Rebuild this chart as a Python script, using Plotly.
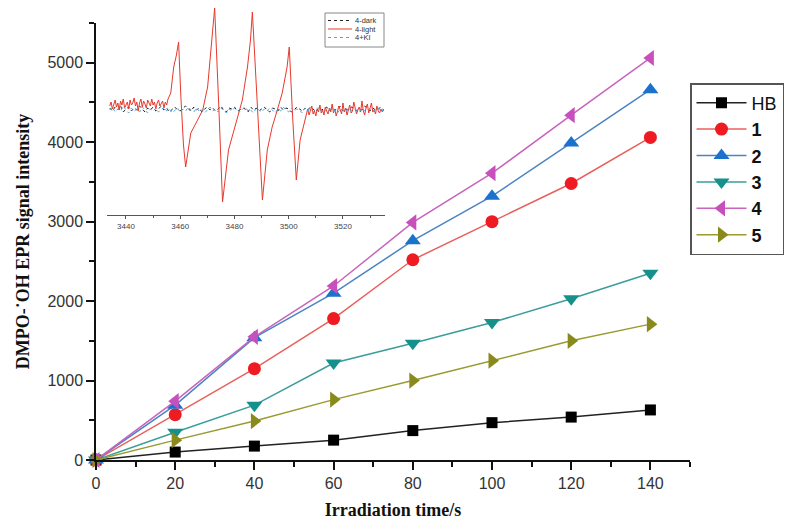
import plotly.graph_objects as go

# ---------------- main data ----------------
time_s = [0, 20, 40, 60, 80, 100, 120, 140]
series_names = ["HB", "1", "2", "3", "4", "5"]
hb = [0, 100, 175, 250, 370, 470, 540, 630]
s1 = [0, 570, 1150, 1780, 2520, 3000, 3480, 4060]
s2 = [0, 690, 1540, 2100, 2760, 3320, 3990, 4660]
s3 = [0, 350, 690, 1220, 1470, 1730, 2030, 2350]
s4 = [0, 740, 1550, 2190, 2990, 3610, 4340, 5060]
s5 = [0, 250, 490, 760, 1000, 1250, 1500, 1710]

x_ticks = [0, 20, 40, 60, 80, 100, 120, 140]
y_ticks = [0, 1000, 2000, 3000, 4000, 5000]

# ---------------- inset EPR spectrum (field / G, intensity a.u.) ----------------
inset_names = ["4-dark", "4-light", "4+KI"]
inset_ticks = [3440, 3460, 3480, 3500, 3520]
light_left_start, light_left_step = 3434.0, 0.5
light_left = [-1, 3, -4, 1, 5, -2, 2, -5, 4, 0, 6, -3, 1, 3, -4, 5, 0, 2, 7, -1, 3, -6,
              2, 6, -2, 4, 1, -3, 5, 2, -1, 6, 0, 3, -4, 2, 5, -1, 1, 4, -3, 3, 0, 6]
light_peak_field = [3456.5, 3457.6, 3458.6, 3459.4, 3460.2, 3461.2, 3462.0, 3463.9, 3466.4,
                    3468.3, 3470.1, 3471.2, 3472.7, 3474.2, 3475.6, 3477.8, 3481.1, 3482.9,
                    3484.8, 3485.9, 3486.6, 3488.5, 3490.3, 3492.1, 3493.9, 3495.8, 3497.6,
                    3499.4, 3500.2, 3501.5, 3502.8, 3504.2, 3506.1]
light_peak_int = [12, 38, 50, 63, 10, -40, -62, -28, -15,
                  -5, 18, 55, 97, 0, -97, -45, -12, 5,
                  38, 65, 93, 0, -95, -45, -22, -5, 12,
                  38, 58, -15, -75, -35, -12]
light_right_start, light_right_step = 3506.5, 0.5
light_right = [-8, -4, -10, -5, -1, -9, -6, -11, -4, -7, 0, -8, -5, -10, -2, -6, -9, -3, -7, 1,
               -8, -4, -11, -6, -1, -5, -9, 2, -7, -3, -10, -5, 0, -8, -6, 3, -4, -9, -5, -2,
               -7, 4, -6, -10, -3, 1, -8, -4, 2, -7, -5, -9, -1, -6, -8, -4, -7, -5]
dark_start, dark_step = 3434.0, 1.0
dark = [-3, -6, -2, -5, -1, -7, -4, -2, -6, -3, -5, -1, -4, -7, -3, -5, -2, -6, -4, -1,
        -5, -3, -7, -4, -2, -5, -6, -3, -1, -4, -6, -2, -5, -3, -7, -4, -2, -5, -3, -6,
        -4, -1, -5, -7, -3, -4, -2, -6, -5, -3, -4, -7, -2, -5, -3, -6, -4, -2, -5, -7,
        -3, -4, -6, -2, -5, -3, -4, -7, -5, -2, -4, -6, -3, -5, -2, -4, -7, -3, -5, -4,
        -2, -6, -3, -5, -4, -1, -6, -4, -5, -2, -3, -6, -4, -5, -1, -4, -6, -3, -5, -4, -2, -5]
ki_start, ki_step = 3434.0, 1.0
ki = [-5, -2, -7, -4, -6, -1, -5, -8, -3, -6, -4, -7, -2, -5, -8, -4, -6, -3, -7, -5,
      -2, -6, -4, -8, -5, -3, -7, -4, -6, -2, -5, -7, -3, -6, -4, -8, -5, -2, -6, -4,
      -7, -3, -5, -8, -4, -6, -3, -5, -7, -4, -2, -6, -5, -8, -3, -5, -7, -4, -6, -3,
      -5, -8, -4, -6, -2, -5, -7, -3, -6, -4, -5, -8, -3, -6, -4, -7, -5, -2, -6, -4,
      -7, -5, -3, -6, -8, -4, -5, -7, -3, -6, -4, -5, -7, -3, -6, -5, -4, -7, -5, -3, -6, -5]


def grid(start, step, vals):
    return [start + i * step for i in range(len(vals))]


light_x = grid(light_left_start, light_left_step, light_left) + light_peak_field + \
    grid(light_right_start, light_right_step, light_right)
light_y = light_left + light_peak_int + light_right

inset_styles = [("#222222", "dot"), ("#e8392c", "solid"), ("#4fa8e0", "dot")]

fig = go.Figure()

fig.add_trace(go.Scatter(x=grid(dark_start, dark_step, dark), y=dark, mode="lines",
                         name=inset_names[0], showlegend=False,
                         line=dict(color=inset_styles[0][0], width=1, dash="dot"),
                         xaxis="x2", yaxis="y2"))
fig.add_trace(go.Scatter(x=light_x, y=light_y, mode="lines", name=inset_names[1], showlegend=False,
                         line=dict(color=inset_styles[1][0], width=1),
                         xaxis="x2", yaxis="y2"))
fig.add_trace(go.Scatter(x=grid(ki_start, ki_step, ki), y=ki, mode="lines",
                         name=inset_names[2], showlegend=False,
                         line=dict(color=inset_styles[2][0], width=1, dash="dot"),
                         xaxis="x2", yaxis="y2"))

styles = [
    ("#222222", "#000000", "square", 11),
    ("#e8605c", "#ee1c22", "circle", 13),
    ("#4a84c4", "#1a72cc", "triangle-up", 14),
    ("#3a9d9a", "#15908a", "triangle-down", 14),
    ("#c864bc", "#c850bc", "triangle-left", 14),
    ("#9a9a30", "#8a8a1c", "triangle-right", 14),
]
data = [hb, s1, s2, s3, s4, s5]
for name, vals, (lc, mc, sym, ms) in zip(series_names, data, styles):
    label = name if name == "HB" else "<b>" + name + "</b>"
    fig.add_trace(go.Scatter(x=time_s, y=vals, mode="lines+markers", name=label,
                             line=dict(color=lc, width=1.5),
                             marker=dict(color=mc, symbol=sym, size=ms),
                             cliponaxis=False))

# inset legend drawn by hand (plotly legend rows cannot be this tight)
L, W, B, H = 96, 594, 460, 455  # plot area left/width, bottom/height in pixels


def px(x):
    return (x - L) / W


def py(y):
    return (B - y) / H


shapes = [dict(type="rect", xref="paper", yref="paper", x0=px(325), x1=px(384), y0=py(47), y1=py(13),
               line=dict(color="#888888", width=1), fillcolor="white", layer="above")]
annotations = []
for i, (nm, (col, dash)) in enumerate(zip(inset_names, inset_styles)):
    ry = 20.5 + i * 8.5
    shapes.append(dict(type="line", xref="paper", yref="paper", x0=px(328), x1=px(352),
                       y0=py(ry), y1=py(ry), line=dict(color=col, width=1, dash=dash), layer="above"))
    annotations.append(dict(text=nm, xref="paper", yref="paper", x=px(353), y=py(ry),
                            xanchor="left", yanchor="middle", showarrow=False,
                            font=dict(family="Liberation Sans, Arial", size=7.5, color="#333333")))

axis_common = dict(showline=True, linecolor="#111111", linewidth=1.5, ticks="outside",
                   tickcolor="#111111", tickwidth=1.5, ticklen=8, showgrid=False,
                   zeroline=False, mirror=False,
                   tickfont=dict(family="Liberation Sans, Arial", size=16, color="#333333"))

fig.update_layout(
    width=793, height=524,
    margin=dict(l=L, r=793 - L - W, t=B - H, b=524 - B),
    paper_bgcolor="white", plot_bgcolor="white",
    xaxis=dict(range=[0, 150], tickvals=x_ticks, domain=[0, 1], anchor="y",
               minor=dict(dtick=10, tick0=0, ticks="outside", ticklen=5, tickcolor="#111111", tickwidth=1.5),
               title=dict(text="<b>Irradiation time/s</b>", standoff=12,
                          font=dict(family="Liberation Serif, Times New Roman", size=18, color="#111111")),
               **axis_common),
    yaxis=dict(range=[0, 5500], tickvals=y_ticks, domain=[0, py(23)], anchor="x",
               minor=dict(dtick=500, tick0=0, ticks="outside", ticklen=5, tickcolor="#111111", tickwidth=1.5),
               title=dict(text="<b>DMPO-˙OH EPR signal intensity</b>", standoff=13,
                          font=dict(family="Liberation Serif, Times New Roman", size=18, color="#111111")),
               **axis_common),
    xaxis2=dict(range=[3433, 3535.5], domain=[px(107), px(385)], anchor="y2", tickvals=inset_ticks,
                showline=True, linecolor="#555555", linewidth=1, ticks="outside", ticklen=3,
                tickcolor="#555555", showgrid=False, zeroline=False,
                minor=dict(dtick=10, tick0=3430, ticks="outside", ticklen=2, tickcolor="#555555"),
                tickfont=dict(family="Liberation Sans, Arial", size=8, color="#444444")),
    yaxis2=dict(range=[-110, 100], domain=[py(215), 1.0], anchor="x2", visible=False),
    legend=dict(x=px(690), y=py(83), xanchor="left", yanchor="top",
                bordercolor="#555555", borderwidth=1.5, bgcolor="white",
                font=dict(family="Liberation Sans, Arial", size=18, color="#111111"),
                tracegroupgap=0, itemwidth=50),
    shapes=shapes,
    annotations=annotations,
    showlegend=True,
)

fig.write_html("out.html", config={"displayModeBar": False},
               post_script="document.body.style.margin='0';")
